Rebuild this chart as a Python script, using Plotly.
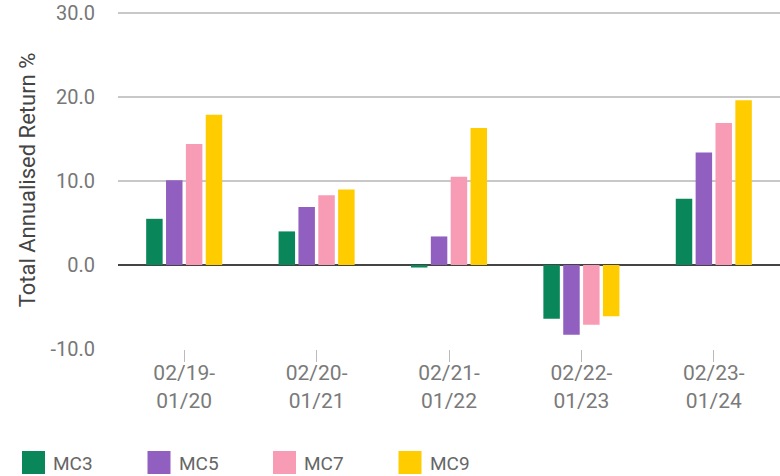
import plotly.graph_objects as go

periods = ["02/19-<br>01/20", "02/20-<br>01/21", "02/21-<br>01/22", "02/22-<br>01/23", "02/23-<br>01/24"]
mc3 = [5.5, 4.0, -0.3, -6.4, 7.9]
mc5 = [10.1, 6.9, 3.4, -8.3, 13.4]
mc7 = [14.4, 8.3, 10.5, -7.1, 16.9]
mc9 = [17.9, 9.0, 16.3, -6.1, 19.6]
series_names = ["MC3", "MC5", "MC7", "MC9"]
series_values = [mc3, mc5, mc7, mc9]
series_colors = ["#0A875A", "#905FBF", "#F89BB4", "#FFCC00"]
y_ticks = [-10, 0, 10, 20, 30]
y_tick_text = ["-10.0", "0.0", "10.0", "20.0", "30.0"]

W, H = 780, 476
ML, MR, MT, MB = 118, 0, 11, 127
PW, PH = W - ML - MR, H - MT - MB

def px_x(p):
    return (p - ML) / PW

def px_y(p):
    return (H - MB - p) / PH

fig = go.Figure()
for name, vals, col in zip(series_names, series_values, series_colors):
    fig.add_trace(go.Bar(x=periods, y=vals, name=name, showlegend=False,
                         marker=dict(color=col, line=dict(width=0))))

# custom legend (large square swatches)
shapes = []
annotations = []
for i, (name, col) in enumerate(zip(series_names, series_colors)):
    x0 = 22 + 125.5 * i
    shapes.append(dict(type="rect", xref="paper", yref="paper",
                       x0=px_x(x0), x1=px_x(x0 + 23), y0=px_y(474), y1=px_y(451),
                       fillcolor=col, line=dict(width=0), layer="above"))
    annotations.append(dict(text=name, xref="paper", yref="paper", x=px_x(x0 + 29), y=px_y(463),
                            xanchor="left", yanchor="middle", showarrow=False,
                            font=dict(size=19, color="#666666")))

font_family = "Roboto"
fig.update_layout(
    width=W, height=H,
    margin=dict(l=ML, r=MR, t=MT, b=MB, autoexpand=False),
    plot_bgcolor="white", paper_bgcolor="white",
    barmode="group", bargap=0.4, bargroupgap=0.17,
    font=dict(family=font_family, color="#777777", size=20),
    showlegend=False,
    shapes=shapes, annotations=annotations,
    xaxis=dict(showgrid=False, ticks="outside", ticklen=12, tickcolor="#bbbbbb", tickwidth=1.2,
               ticklabelstandoff=-7,
               tickfont=dict(size=21, color="#7a7a7a"), showline=False, automargin=False),
    yaxis=dict(range=[-10, 30.24], tickvals=y_ticks, ticktext=y_tick_text,
               gridcolor="#c8c8c8", gridwidth=1.5, zeroline=True, zerolinecolor="#444444",
               zerolinewidth=1.5, tickfont=dict(size=20, color="#777777"), ticks="",
               ticklabelstandoff=22, automargin=False,
               title=dict(text="Total Annualised Return %", font=dict(size=22, color="#444444"), standoff=8)),
)
fig.write_html("out.html", config={"displayModeBar": False},
               post_script="document.body.style.margin='0';document.body.style.padding='0';")
